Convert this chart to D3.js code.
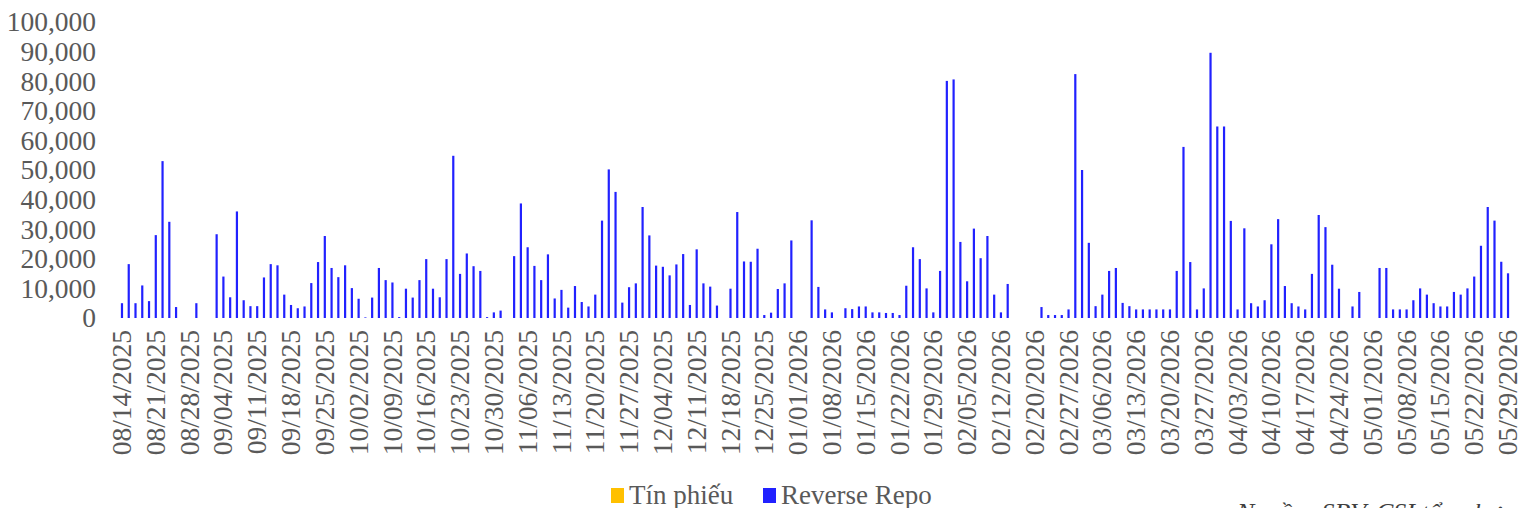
<!DOCTYPE html>
<html><head><meta charset="utf-8">
<script src="https://cdn.jsdelivr.net/npm/d3@7/dist/d3.min.js"></script>
<style>body{margin:0;background:#fff;overflow:hidden} svg{display:block}</style>
</head><body><svg id="c" width="1521" height="508"></svg>
<script>
const categories = [
"08/14/2025","08/15/2025","08/18/2025","08/19/2025","08/20/2025","08/21/2025","08/22/2025","08/25/2025","08/26/2025","08/27/2025","08/28/2025","08/29/2025",
"09/01/2025","09/02/2025","09/03/2025","09/04/2025","09/05/2025","09/08/2025","09/09/2025","09/10/2025","09/11/2025","09/12/2025","09/15/2025","09/16/2025","09/17/2025","09/18/2025","09/19/2025","09/22/2025","09/23/2025","09/24/2025","09/25/2025","09/26/2025","09/29/2025","09/30/2025",
"10/01/2025","10/02/2025","10/03/2025","10/06/2025","10/07/2025","10/08/2025","10/09/2025","10/10/2025","10/13/2025","10/14/2025","10/15/2025","10/16/2025","10/17/2025","10/20/2025","10/21/2025","10/22/2025","10/23/2025","10/24/2025","10/27/2025","10/28/2025","10/29/2025","10/30/2025","10/31/2025",
"11/03/2025","11/04/2025","11/05/2025","11/06/2025","11/07/2025","11/10/2025","11/11/2025","11/12/2025","11/13/2025","11/14/2025","11/17/2025","11/18/2025","11/19/2025","11/20/2025","11/21/2025","11/24/2025","11/25/2025","11/26/2025","11/27/2025","11/28/2025",
"12/01/2025","12/02/2025","12/03/2025","12/04/2025","12/05/2025","12/08/2025","12/09/2025","12/10/2025","12/11/2025","12/12/2025","12/15/2025","12/16/2025","12/17/2025","12/18/2025","12/19/2025","12/22/2025","12/23/2025","12/24/2025","12/25/2025","12/26/2025","12/29/2025","12/30/2025","12/31/2025",
"01/01/2026","01/02/2026","01/05/2026","01/06/2026","01/07/2026","01/08/2026","01/09/2026","01/12/2026","01/13/2026","01/14/2026","01/15/2026","01/16/2026","01/19/2026","01/20/2026","01/21/2026","01/22/2026","01/23/2026","01/26/2026","01/27/2026","01/28/2026","01/29/2026","01/30/2026",
"02/02/2026","02/03/2026","02/04/2026","02/05/2026","02/06/2026","02/09/2026","02/10/2026","02/11/2026","02/12/2026","02/13/2026","02/16/2026","02/18/2026","02/19/2026","02/20/2026","02/23/2026","02/24/2026","02/25/2026","02/26/2026","02/27/2026",
"03/02/2026","03/03/2026","03/04/2026","03/05/2026","03/06/2026","03/09/2026","03/10/2026","03/11/2026","03/12/2026","03/13/2026","03/16/2026","03/17/2026","03/18/2026","03/19/2026","03/20/2026","03/23/2026","03/24/2026","03/25/2026","03/26/2026","03/27/2026","03/30/2026","03/31/2026",
"04/01/2026","04/02/2026","04/03/2026","04/06/2026","04/07/2026","04/08/2026","04/09/2026","04/10/2026","04/13/2026","04/14/2026","04/15/2026","04/16/2026","04/17/2026","04/20/2026","04/21/2026","04/22/2026","04/23/2026","04/24/2026","04/27/2026","04/28/2026","04/29/2026","04/30/2026",
"05/01/2026","05/04/2026","05/05/2026","05/06/2026","05/07/2026","05/08/2026","05/11/2026","05/12/2026","05/13/2026","05/14/2026","05/15/2026","05/18/2026","05/19/2026","05/20/2026","05/21/2026","05/22/2026","05/25/2026","05/26/2026","05/27/2026","05/28/2026","05/29/2026"
];

// Reverse Repo (one value per category)
const reverseRepo = [
5000,18200,5000,11000,5700,28000,53000,32500,3700,0,0,5000,
0,0,28300,14000,7000,36000,6000,4000,4000,13700,18200,17800,7900,4400,3300,3900,11800,18900,27700,16900,13800,17800,
10100,6500,200,6900,16900,12800,12000,300,9900,6900,12800,19900,9900,7000,19900,54800,14900,21800,17500,15900,300,1900,2500,
0,20900,38700,23900,17600,12800,21500,6600,9500,3500,10800,5400,3900,7900,32900,50200,42600,5200,10400,11700,
37500,27900,17700,17300,14400,18100,21600,4400,23200,11700,10600,4200,0,9900,35800,19100,19000,23400,1000,1800,9800,11700,26200,
0,0,33000,10500,2900,1900,0,3300,3000,3900,3900,1900,1900,1700,1700,1000,10900,23900,19900,10000,1900,15900,
80100,80600,25700,12400,30200,20200,27700,7900,1900,11500,0,0,0,0,3700,1000,1000,1000,2900,
82400,50000,25400,4000,7900,15900,16900,5100,4000,2900,2900,2900,2900,2900,2900,15900,57800,18900,2900,10000,89600,64700,
64700,32800,2900,30300,5000,3900,6000,24900,33400,10800,5000,3900,2900,14900,34800,30700,18000,9900,0,3900,8800,0,
0,16900,16900,2900,2900,2900,6000,10000,7900,5000,3900,3900,8800,7900,10000,14000,24400,37500,32900,19000,15100
];

// Tín phiếu: no issuance in the period shown
const tinPhieu = categories.map(() => 0);

const yTicks = [0,10000,20000,30000,40000,50000,60000,70000,80000,90000,100000];
const seriesNames = ["Tín phiếu", "Reverse Repo"];
const seriesColors = ["#FFC000", "#2121FF"];
const sourceNote = "Nguồn: SBV, CSI tổng hợp";

const FONT = "'Liberation Serif','Times New Roman',serif";
const TXT = "#595959";
const svg = d3.select("#c");

const x = d3.scaleBand().domain(categories).range([118.6, 1511.4]).padding(0);
const y = d3.scaleLinear().domain([0, 100000]).range([318, 22]);

// y axis (labels only)
const yAxis = svg.append("g").attr("transform", "translate(96,0)")
  .call(d3.axisLeft(y).tickValues(yTicks).tickFormat(d3.format(",")).tickSize(0).tickPadding(0));
yAxis.select(".domain").remove();
yAxis.selectAll("text").attr("fill", TXT).style("font-family", FONT).style("font-size", "27.5px");

// bars
const bw = 2.2;
svg.append("g").selectAll("rect").data(categories).join("rect")
  .attr("x", d => x(d) + x.bandwidth()/2 - bw/2)
  .attr("width", bw)
  .attr("y", (d,i) => y(tinPhieu[i]))
  .attr("height", (d,i) => y(0) - y(tinPhieu[i]))
  .attr("fill", seriesColors[0]);
svg.append("g").selectAll("rect").data(categories).join("rect")
  .attr("x", d => x(d) + x.bandwidth()/2 - bw/2)
  .attr("width", bw)
  .attr("y", (d,i) => y(reverseRepo[i] + tinPhieu[i]))
  .attr("height", (d,i) => y(tinPhieu[i]) - y(reverseRepo[i] + tinPhieu[i]))
  .attr("fill", seriesColors[1]);

// x axis labels (every 5th category)
const xTickVals = categories.filter((d,i) => i % 5 === 0);
const xAxis = svg.append("g").attr("transform", "translate(0,330)")
  .call(d3.axisBottom(x).tickValues(xTickVals).tickSize(0).tickPadding(0));
xAxis.select(".domain").remove();
xAxis.selectAll("text")
  .attr("fill", TXT).style("font-family", FONT).style("font-size", "27.5px")
  .attr("text-anchor", "end")
  .attr("transform", "rotate(-90)")
  .attr("x", 0).attr("y", 0).attr("dy", "0.33em");

// legend
const legend = svg.append("g");
const legX = [611, 763];
seriesNames.forEach((n, i) => {
  legend.append("rect").attr("x", legX[i]).attr("y", 488).attr("width", 13).attr("height", 15).attr("fill", seriesColors[i]);
  legend.append("text").attr("x", legX[i] + 18).attr("y", 504).text(n)
    .attr("fill", TXT).style("font-family", FONT).style("font-size", "27px");
});

// source note (partly cut off at the bottom edge, as in the original)
svg.append("text").attr("x", 1514).attr("y", 521).attr("text-anchor", "end")
  .text(sourceNote).attr("fill", "#404040").style("font-family", FONT)
  .style("font-size", "26px").style("font-style", "italic");
</script></body></html>
